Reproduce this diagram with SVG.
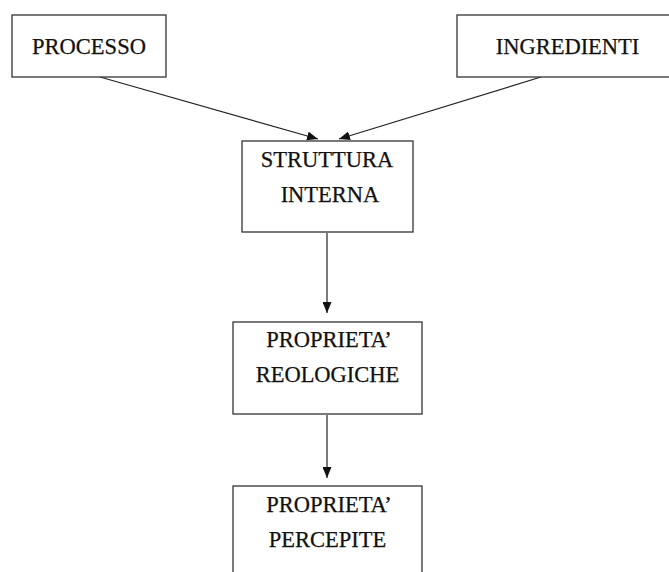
<svg xmlns="http://www.w3.org/2000/svg" width="669" height="572" viewBox="0 0 669 572">
<style>
.box{fill:#fff;stroke:#333;stroke-width:1.3}
.lbl{font-family:"Liberation Serif","Times New Roman",serif;font-size:22.5px;fill:#111;stroke:#111;stroke-width:0.25;text-anchor:middle}
.edge{stroke:#222;stroke-width:1.2;fill:none}
</style>
<defs>
<marker id="ah" viewBox="0 0 11 9" refX="11" refY="4.5" markerWidth="11" markerHeight="9" markerUnits="userSpaceOnUse" orient="auto">
<path d="M0,0 L11,4.5 L0,9 Z" fill="#111"/>
</marker>
</defs>
<rect width="669" height="572" fill="#fff"/>
<g id="edges">
<line class="edge" x1="100" y1="77" x2="318" y2="139" marker-end="url(#ah)"/>
<line class="edge" x1="541" y1="77" x2="339" y2="139" marker-end="url(#ah)"/>
<line class="edge" x1="327" y1="233" x2="327" y2="313" marker-end="url(#ah)"/>
<line class="edge" x1="327" y1="415" x2="327" y2="478" marker-end="url(#ah)"/>
</g>
<g id="processo">
<rect class="box" x="12" y="15" width="154" height="62"/>
<text class="lbl" x="89" y="54">PROCESSO</text>
</g>
<g id="ingredienti">
<rect class="box" x="457" y="15" width="222" height="62"/>
<text class="lbl" x="567.5" y="54">INGREDIENTI</text>
</g>
<g id="struttura">
<rect class="box" x="242" y="141" width="171" height="91"/>
<text class="lbl" x="327" y="167">STRUTTURA</text>
<text class="lbl" x="330" y="202">INTERNA</text>
</g>
<g id="reologiche">
<rect class="box" x="233" y="322" width="189" height="92"/>
<text class="lbl" x="329" y="347">PROPRIETA’</text>
<text class="lbl" x="327.5" y="382">REOLOGICHE</text>
</g>
<g id="percepite">
<rect class="box" x="233" y="486" width="189" height="100"/>
<text class="lbl" x="329" y="512">PROPRIETA’</text>
<text class="lbl" x="327.5" y="547">PERCEPITE</text>
</g>
</svg>
